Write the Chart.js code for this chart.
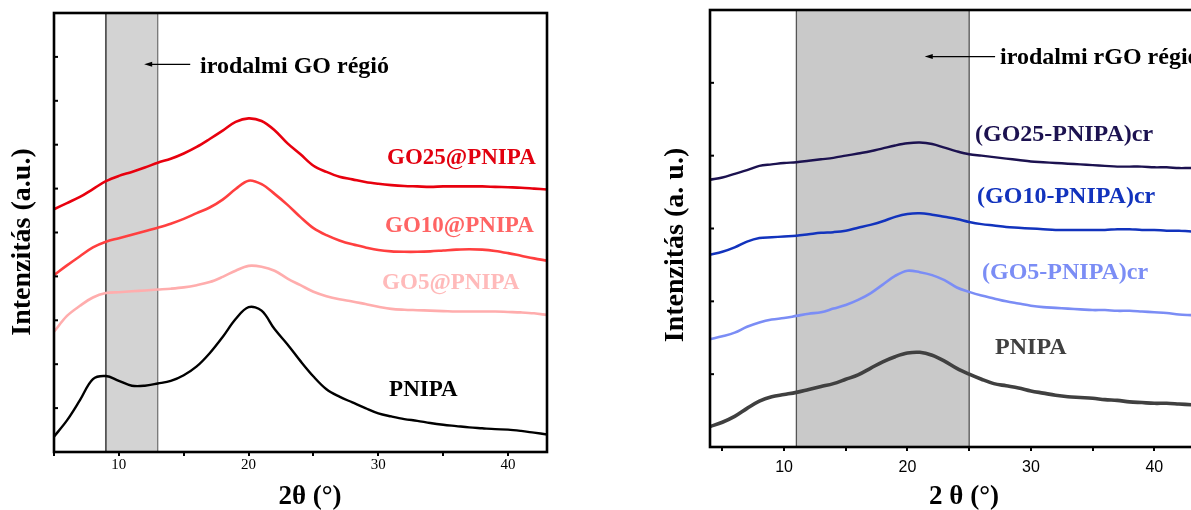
<!DOCTYPE html>
<html>
<head>
<meta charset="utf-8">
<script src="https://cdn.jsdelivr.net/npm/chart.js@4.4.0/dist/chart.umd.min.js"></script>
<style>
  html, body { margin: 0; padding: 0; background: #fff; overflow: hidden; width: 1191px; height: 510px; }
  .panel { position: absolute; top: 0; }
  #left { left: 0; }
  #right { left: 640px; }
</style>
</head>
<body>
<div class="panel" id="left"><canvas id="goChart" width="570" height="510"></canvas></div>
<div class="panel" id="right"><canvas id="rgoChart" width="600" height="510"></canvas></div>
<script>
const SERIF = "'Liberation Serif', 'Times New Roman', Times, serif";
const SANS = "'Liberation Sans', Arial, Helvetica, sans-serif";

// --- GO@PNIPA diffractograms (stacked, arbitrary units) ---
const goTheta = [5, 6, 7, 8, 9, 10, 11, 12, 13, 14, 15, 16, 17, 18, 19, 20, 21, 22, 23, 24,
                 25, 26, 27, 28, 29, 30, 31, 32, 33, 34, 35, 36, 37, 38, 39, 40, 41, 42, 43];
const pnipa = [0.35, 0.72, 1.18, 1.66, 1.73, 1.62, 1.51, 1.51, 1.56, 1.62, 1.75, 1.95, 2.25, 2.62, 3.03, 3.30, 3.22, 2.80, 2.45, 2.07,
               1.72, 1.43, 1.26, 1.13, 1.00, 0.88, 0.81, 0.75, 0.71, 0.66, 0.62, 0.59, 0.56, 0.54, 0.52, 0.51, 0.48, 0.44, 0.40];
const go5 = [2.74, 3.10, 3.33, 3.52, 3.62, 3.64, 3.66, 3.68, 3.70, 3.72, 3.75, 3.80, 3.87, 3.99, 4.13, 4.24, 4.22, 4.13, 3.95, 3.80,
             3.65, 3.55, 3.48, 3.43, 3.37, 3.31, 3.26, 3.24, 3.23, 3.22, 3.21, 3.20, 3.20, 3.20, 3.20, 3.19, 3.18, 3.16, 3.12];
const go10 = [4.03, 4.25, 4.46, 4.66, 4.79, 4.87, 4.95, 5.03, 5.11, 5.20, 5.31, 5.44, 5.57, 5.75, 5.99, 6.18, 6.10, 5.88, 5.63, 5.35,
              5.10, 4.94, 4.82, 4.73, 4.66, 4.60, 4.57, 4.56, 4.56, 4.57, 4.59, 4.61, 4.62, 4.61, 4.58, 4.53, 4.47, 4.41, 4.36];
const go25 = [5.53, 5.67, 5.81, 5.99, 6.17, 6.29, 6.38, 6.48, 6.59, 6.68, 6.80, 6.95, 7.13, 7.32, 7.52, 7.60, 7.54, 7.33, 7.03, 6.78,
              6.52, 6.38, 6.27, 6.21, 6.15, 6.11, 6.08, 6.06, 6.05, 6.04, 6.05, 6.05, 6.05, 6.05, 6.04, 6.03, 6.02, 6.00, 5.98];

// --- (GO-PNIPA)cr diffractograms ---
const rgoTheta = [4, 5, 6, 7, 8, 9, 10, 11, 12, 13, 14, 15, 16, 17, 18, 19, 20, 21, 22, 23, 24,
                  25, 26, 27, 28, 29, 30, 31, 32, 33, 34, 35, 36, 37, 38, 39, 40, 41, 42, 43, 44, 45];
const pnipaCr = [0.28, 0.34, 0.42, 0.53, 0.63, 0.69, 0.72, 0.75, 0.79, 0.83, 0.87, 0.93, 0.99, 1.08, 1.17, 1.24, 1.29, 1.30, 1.26, 1.18, 1.08,
                 1.00, 0.93, 0.87, 0.84, 0.81, 0.77, 0.74, 0.71, 0.69, 0.68, 0.67, 0.65, 0.64, 0.62, 0.61, 0.60, 0.60, 0.59, 0.58, 0.57, 0.57];
const go5Cr = [1.48, 1.52, 1.57, 1.65, 1.71, 1.75, 1.77, 1.80, 1.83, 1.85, 1.90, 1.95, 2.02, 2.11, 2.23, 2.35, 2.42, 2.40, 2.36, 2.29, 2.19,
               2.13, 2.08, 2.04, 2.00, 1.97, 1.94, 1.92, 1.91, 1.90, 1.89, 1.88, 1.88, 1.87, 1.87, 1.86, 1.85, 1.84, 1.82, 1.81, 1.80, 1.79];
const go10Cr = [2.64, 2.68, 2.74, 2.82, 2.87, 2.88, 2.89, 2.90, 2.92, 2.94, 2.95, 2.97, 3.01, 3.05, 3.10, 3.16, 3.20, 3.21, 3.19, 3.16, 3.13,
                3.09, 3.06, 3.04, 3.02, 3.01, 3.00, 2.99, 2.98, 2.98, 2.98, 2.98, 2.98, 2.99, 2.99, 2.98, 2.98, 2.97, 2.97, 2.96, 2.96, 2.95];
const go25Cr = [3.67, 3.70, 3.75, 3.80, 3.86, 3.88, 3.90, 3.91, 3.93, 3.95, 3.97, 4.00, 4.03, 4.06, 4.10, 4.14, 4.17, 4.18, 4.16, 4.11, 4.06,
                4.02, 4.00, 3.98, 3.96, 3.94, 3.92, 3.91, 3.90, 3.89, 3.88, 3.87, 3.86, 3.85, 3.85, 3.85, 3.84, 3.84, 3.83, 3.83, 3.82, 3.82];

const toPoints = (theta, vals) => theta.map((t, i) => ({ x: t, y: vals[i] }));

// shaded band, arrow + note, curve labels, frame and axis titles
function decorPlugin(d) {
  return {
    id: 'decor',
    beforeDatasetsDraw(chart) {
      const { ctx, chartArea: a, scales: { x } } = chart;
      const x0 = x.getPixelForValue(d.band[0]);
      const x1 = x.getPixelForValue(d.band[1]);
      ctx.save();
      ctx.fillStyle = d.bandFill;
      ctx.fillRect(x0, a.top, x1 - x0, a.bottom - a.top);
      ctx.strokeStyle = '#555';
      [[x0, d.bandEdge[0]], [x1, d.bandEdge[1]]].forEach(([px, w]) => {
        ctx.lineWidth = w;
        ctx.beginPath();
        ctx.moveTo(px, a.top);
        ctx.lineTo(px, a.bottom);
        ctx.stroke();
      });
      ctx.restore();
    },
    afterDatasetsDraw(chart) {
      const { ctx, scales: { x, y } } = chart;
      ctx.save();
      // arrow pointing into the band
      const ax0 = x.getPixelForValue(d.arrow.from), ax1 = x.getPixelForValue(d.arrow.to);
      const ay = y.getPixelForValue(d.arrow.y);
      ctx.strokeStyle = '#000';
      ctx.fillStyle = '#000';
      ctx.lineWidth = 1.2;
      ctx.beginPath();
      ctx.moveTo(ax0, ay);
      ctx.lineTo(ax1 + 6, ay);
      ctx.stroke();
      ctx.beginPath();
      ctx.moveTo(ax1, ay);
      ctx.lineTo(ax1 + 8, ay - 2.5);
      ctx.lineTo(ax1 + 8, ay + 2.5);
      ctx.closePath();
      ctx.fill();

      ctx.textAlign = 'left';
      ctx.textBaseline = 'middle';
      ctx.font = 'bold 24px ' + SERIF;
      ctx.fillText(d.note.text, x.getPixelForValue(d.note.x), y.getPixelForValue(d.note.y));

      ctx.font = 'bold ' + d.labelSize + 'px ' + SERIF;
      d.labels.forEach(l => {
        ctx.fillStyle = l.color;
        ctx.fillText(l.text, x.getPixelForValue(l.x), y.getPixelForValue(l.y));
      });
      ctx.restore();
    },
    afterDraw(chart) {
      const { ctx, chartArea: a, scales: { y } } = chart;
      ctx.save();
      ctx.strokeStyle = '#000';
      ctx.lineWidth = 2;
      y.ticks.forEach(t => {
        if (t.value <= y.min || t.value >= y.max) return;
        const py = y.getPixelForValue(t.value);
        ctx.beginPath();
        ctx.moveTo(a.left, py);
        ctx.lineTo(a.left + 4, py);
        ctx.stroke();
      });
      ctx.lineWidth = 2.6;
      ctx.strokeRect(a.left, a.top, a.right - a.left, a.bottom - a.top);

      ctx.fillStyle = '#000';
      ctx.font = 'bold 27px ' + SERIF;
      ctx.textAlign = 'center';
      ctx.textBaseline = 'middle';
      ctx.fillText(d.xTitle.text, d.xTitle.x, d.xTitle.y);
      ctx.font = 'bold 28px ' + SERIF;
      ctx.translate(d.yTitle.x, d.yTitle.y);
      ctx.rotate(-Math.PI / 2);
      ctx.fillText(d.yTitle.text, 0, 0);
      ctx.restore();
    }
  };
}

function makeChart(id, cfg) {
  return new Chart(document.getElementById(id), {
    type: 'line',
    data: {
      datasets: cfg.series.map(s => ({
        label: s.label,
        data: toPoints(cfg.theta, s.values),
        borderColor: s.color,
        borderWidth: s.width,
        pointRadius: 0,
        tension: 0.35,
        fill: false
      }))
    },
    options: {
      responsive: false,
      animation: false,
      layout: { padding: cfg.padding },
      plugins: { legend: { display: false }, tooltip: { enabled: false } },
      scales: {
        x: {
          type: 'linear',
          min: cfg.xMin,
          max: cfg.xMax,
          afterFit: s => { s.height = cfg.xAxisHeight; },
          ticks: {
            stepSize: 5,
            includeBounds: false,
            autoSkip: false,
            maxRotation: 0,
            padding: cfg.tickPadding,
            color: '#000',
            font: cfg.tickFont,
            callback: v => (v % 10 === 0 ? v : '')
          },
          grid: { display: true, drawOnChartArea: false, tickLength: 4, color: '#000', lineWidth: 2 },
          border: { display: false }
        },
        y: {
          min: 0,
          max: cfg.yMax,
          afterFit: s => { s.width = cfg.yAxisWidth; },
          ticks: { display: false, stepSize: 1 },
          grid: { display: false },
          border: { display: false }
        }
      }
    },
    plugins: [decorPlugin(cfg.decor)]
  });
}

makeChart('goChart', {
  theta: goTheta,
  xMin: 5, xMax: 43, yMax: 10,
  padding: { top: 13, right: 23, left: 0, bottom: 0 },
  yAxisWidth: 54, xAxisHeight: 58,
  tickPadding: 0,
  tickFont: { family: SERIF, size: 15 },
  series: [
    { label: 'PNIPA', values: pnipa, color: '#000000', width: 2.4 },
    { label: 'GO5@PNIPA', values: go5, color: '#ffadad', width: 2.6 },
    { label: 'GO10@PNIPA', values: go10, color: '#ff3f3f', width: 2.6 },
    { label: 'GO25@PNIPA', values: go25, color: '#e8000e', width: 2.6 }
  ],
  decor: {
    band: [9, 13], bandFill: '#d3d3d3', bandEdge: [1.8, 1],
    arrow: { from: 15.5, to: 11.95, y: 8.83 },
    note: { text: 'irodalmi GO régió', x: 16.26, y: 8.77 },
    labelSize: 23,
    labels: [
      { text: 'GO25@PNIPA', x: 30.67, y: 6.70, color: '#e2000f' },
      { text: 'GO10@PNIPA', x: 30.52, y: 5.15, color: '#ff6464' },
      { text: 'GO5@PNIPA', x: 30.29, y: 3.85, color: '#ffbaba' },
      { text: 'PNIPA', x: 30.83, y: 1.41, color: '#000000' }
    ],
    xTitle: { text: '2θ (°)', x: 310, y: 497 },
    yTitle: { text: 'Intenzitás (a.u.)', x: 23, y: 242 }
  }
});

makeChart('rgoChart', {
  theta: rgoTheta,
  xMin: 4, xMax: 45, yMax: 6,
  padding: { top: 10, right: 24, left: 0, bottom: 0 },
  yAxisWidth: 70, xAxisHeight: 63,
  tickPadding: 7,
  tickFont: { family: SANS, size: 16 },
  series: [
    { label: 'PNIPA', values: pnipaCr, color: '#404040', width: 3.6 },
    { label: '(GO5-PNIPA)cr', values: go5Cr, color: '#7b8df5', width: 2.6 },
    { label: '(GO10-PNIPA)cr', values: go10Cr, color: '#1233bd', width: 2.5 },
    { label: '(GO25-PNIPA)cr', values: go25Cr, color: '#1c1250', width: 2.4 }
  ],
  decor: {
    band: [11, 25], bandFill: '#c9c9c9', bandEdge: [1.3, 1.3],
    arrow: { from: 27.1, to: 21.4, y: 5.36 },
    note: { text: 'irodalmi rGO régió', x: 27.5, y: 5.35 },
    labelSize: 24,
    labels: [
      { text: '(GO25-PNIPA)cr', x: 25.47, y: 4.28, color: '#1c1250' },
      { text: '(GO10-PNIPA)cr', x: 25.64, y: 3.43, color: '#1233bd' },
      { text: '(GO5-PNIPA)cr', x: 26.04, y: 2.39, color: '#7b8df5' },
      { text: 'PNIPA', x: 27.1, y: 1.36, color: '#404040' }
    ],
    xTitle: { text: '2 θ (°)', x: 324, y: 497 },
    yTitle: { text: 'Intenzitás (a. u.)', x: 36, y: 245 }
  }
});
</script>
</body>
</html>
